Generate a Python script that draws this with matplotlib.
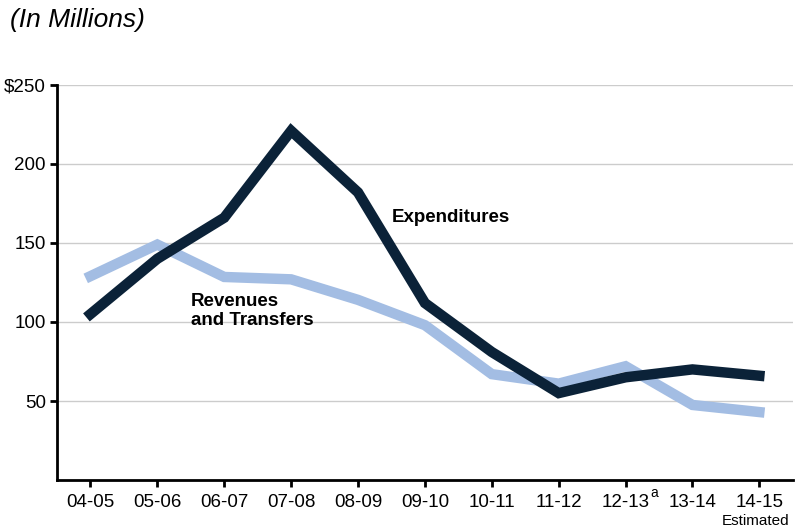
import matplotlib
matplotlib.use("Agg")
import matplotlib.pyplot as plt
from matplotlib.transforms import blended_transform_factory

plt.rcParams['font.family'] = ['Liberation Sans', 'DejaVu Sans']

years = ['04-05', '05-06', '06-07', '07-08', '08-09', '09-10', '10-11',
         '11-12', '12-13', '13-14', '14-15']
expenditures = [105, 140, 166, 221, 182, 112, 81, 55, 65, 70, 66]
revenues = [129, 149, 128.5, 127, 114, 98, 67, 61, 72, 47.5, 43]
yticks = [50, 100, 150, 200, 250]
ylabels = ['50', '100', '150', '200', '$250']

fig = plt.figure(figsize=(7.96, 5.31), dpi=100)
ax = fig.add_axes([0.0716, 0.096, 0.9244, 0.744])

x = list(range(len(years)))
ax.plot(x, revenues, color='#a3bde3', lw=7.5, solid_joinstyle='miter', zorder=3)
ax.plot(x, expenditures, color='#0b2238', lw=7.5, solid_joinstyle='miter', zorder=4)

ax.set_xlim(-0.5, 10.5)
ax.set_ylim(0, 250)
ax.set_yticks(yticks)
ax.set_yticklabels(ylabels)
ax.set_xticks(x)
ax.set_xticklabels(years)
ax.grid(axis='y', color='#cccccc', lw=1, zorder=0)
ax.set_axisbelow(True)

for s in ['top', 'right']:
    ax.spines[s].set_visible(False)
for s in ['left', 'bottom']:
    ax.spines[s].set_linewidth(2)
ax.tick_params(axis='both', width=2, length=5, labelsize=13.5, color='black')
ax.tick_params(axis='y', pad=3)
ax.tick_params(axis='x', pad=5)

ax.text(4.5, 166, 'Expenditures', fontsize=13.5, fontweight='bold', va='center')
ax.text(1.5, 107, 'Revenues\nand Transfers', fontsize=13.5, fontweight='bold',
        va='center', linespacing=1.1)

# footnote marker and note under the x tick labels
trans = blended_transform_factory(ax.transData, ax.transAxes)
ax.text(8.37, -0.032, 'a', fontsize=10, ha='left', va='center', transform=trans)
ax.text(9.95, -0.103, 'Estimated', fontsize=11, ha='center', va='center', transform=trans)

fig.text(0.012, 0.962, '(In Millions)', fontsize=19, style='italic', va='center')

fig.savefig('out.png', dpi=100)
